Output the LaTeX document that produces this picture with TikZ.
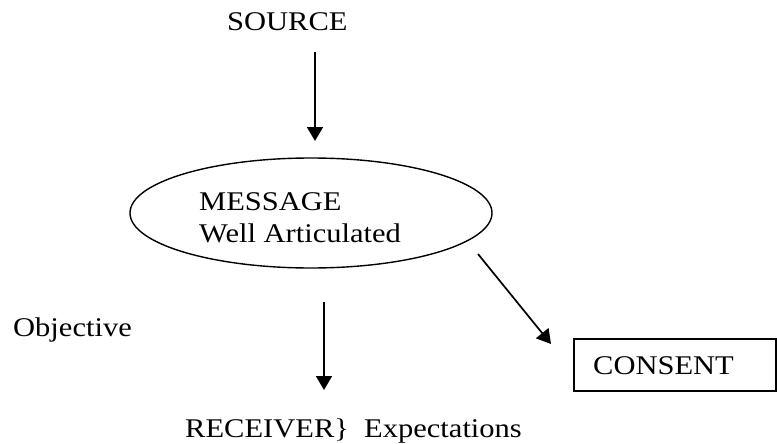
\documentclass[tikz,border=0pt]{standalone}
\usepackage{fontspec}
\setmainfont{Liberation Serif}[FakeStretch=1.13]
\usetikzlibrary{arrows.meta,shapes.geometric}
\tikzset{
  lbl/.style={anchor=base west, inner sep=0pt, font=\fontsize{27}{32}\selectfont},
  flow/.style={line width=1.7pt, -{Triangle[width=16pt,length=14pt]}},
  oval/.style={ellipse, draw, line width=1.4pt, minimum width=362pt, minimum height=110pt, inner sep=0pt},
  boxed/.style={draw, line width=1.6pt, inner sep=0pt}
}
\begin{document}
\begin{tikzpicture}[x=1pt,y=-1pt]
\useasboundingbox (0,0) rectangle (777,444);
% labels
\node[lbl] (src) at (227,31) {SOURCE};
\node[oval] (msg) at (311,213) {};
\node[lbl] (msgA) at (199,210) {MESSAGE};
\node[lbl] (msgB) at (199,242) {Well Articulated};
\node[lbl] (obj) at (13,336) {Objective};
\node[lbl] (rcv) at (185,437) {RECEIVER\}\ \ Expectations};
% consent box
\node[boxed, minimum width=202pt, minimum height=52pt, anchor=north west] (cons) at (573,338) {};
\node[lbl] (consT) at (593,374) {CONSENT};
% arrow end points
\coordinate (s1) at (315,52);
\coordinate (e1) at (315,141);
\coordinate (s2) at (478,254);
\coordinate (e2) at (551,344);
\coordinate (s3) at (324,302);
\coordinate (e3) at (324,390);
\draw[flow] (s1) -- (e1);
\draw[flow] (s2) -- (e2);
\draw[flow] (s3) -- (e3);
\end{tikzpicture}
\end{document}
